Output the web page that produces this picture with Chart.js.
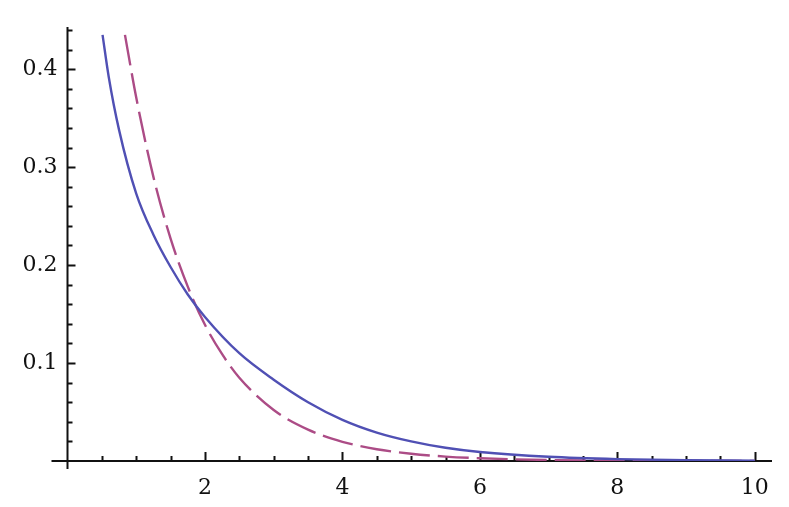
<!DOCTYPE html>
<html>
<head>
<meta charset="utf-8">
<script src="https://cdn.jsdelivr.net/npm/chart.js@4"></script>
<style>
  html, body { margin: 0; padding: 0; background: #fff; }
  canvas { display: block; }
</style>
</head>
<body>
<canvas id="plot" width="789" height="507"></canvas>
<script>
// values
const blueX = [0.51, 0.6, 0.75, 1.0, 1.25, 1.5, 1.75, 2.0, 2.5, 3.0, 3.5, 4.0, 4.5, 5.0, 5.5, 6.0, 7.0, 8.0, 9.0, 10.0];
const blueY = [0.435, 0.392, 0.338, 0.273, 0.231, 0.198, 0.170, 0.147, 0.110, 0.083, 0.060, 0.042, 0.029, 0.020, 0.0135, 0.0092, 0.0043, 0.0019, 0.0008, 0.0004];
const purpleX = [0.836, 1.0, 1.25, 1.5, 1.75, 2.0, 2.25, 2.5, 3.0, 3.5, 4.0, 4.5, 5.0, 5.5, 6.0, 7.0, 8.0, 9.0, 10.0];
const purpleY = [0.435, 0.371, 0.290, 0.227, 0.178, 0.139, 0.109, 0.085, 0.052, 0.032, 0.0196, 0.012, 0.0074, 0.0045, 0.0028, 0.0010, 0.0004, 0.00015, 0.00005];
const xTicks = [2, 4, 6, 8, 10];
const yTicks = [0.1, 0.2, 0.3, 0.4];
const xTickLabels = ['2', '4', '6', '8', '10'];
const yTickLabels = ['0.1', '0.2', '0.3', '0.4'];

const toPoints = (xs, ys) => xs.map((x, i) => ({ x: x, y: ys[i] }));

// Mathematica-style axes crossing at the origin, ticks on the inside
const axesPlugin = {
    id: 'axes',
    beforeDatasetsDraw(chart) {
        const ctx = chart.ctx;
        const xs = chart.scales.x, ys = chart.scales.y;
        const x0 = xs.getPixelForValue(0), y0 = ys.getPixelForValue(0);
        ctx.save();
        ctx.strokeStyle = '#111';
        ctx.lineWidth = 2;
        ctx.beginPath();
        ctx.moveTo(x0 - 16, y0);
        ctx.lineTo(chart.chartArea.right, y0);
        ctx.moveTo(x0, y0 + 8);
        ctx.lineTo(x0, chart.chartArea.top);
        // x ticks every 0.5, major on the labelled ones
        for (let v = 0.5; v <= 10.001; v += 0.5) {
            const p = Math.round(xs.getPixelForValue(v)) + 0.5;
            const len = Math.abs(v % 2) < 0.01 ? 9 : 5;
            ctx.moveTo(p, y0);
            ctx.lineTo(p, y0 - len);
        }
        // y ticks every 0.02
        for (let i = 1; i <= 22; i++) {
            const v = i * 0.02;
            const p = Math.round(ys.getPixelForValue(v)) + 0.5;
            const len = i % 5 === 0 ? 8 : 5;
            ctx.moveTo(x0, p);
            ctx.lineTo(x0 + len, p);
        }
        ctx.stroke();
        ctx.restore();
    }
};

new Chart(document.getElementById('plot'), {
    type: 'line',
    data: {
        datasets: [{
            data: toPoints(blueX, blueY),
            borderColor: 'rgb(80, 80, 180)',
            borderWidth: 2.4,
            pointRadius: 0,
            cubicInterpolationMode: 'monotone',
            fill: false
        }, {
            data: toPoints(purpleX, purpleY),
            borderColor: 'rgb(172, 76, 134)',
            borderWidth: 2.4,
            borderDash: [31, 8],
            pointRadius: 0,
            cubicInterpolationMode: 'monotone',
            fill: false
        }]
    },
    options: {
        responsive: false,
        animation: false,
        events: [],
        layout: { padding: { top: 27, right: 17, left: 0, bottom: 0 } },
        plugins: { legend: { display: false }, tooltip: { enabled: false } },
        scales: {
            x: {
                type: 'linear',
                min: 0,
                max: 10.25,
                grid: { display: false, drawTicks: false, tickLength: 0 },
                border: { display: false },
                afterBuildTicks: s => { s.ticks = xTicks.map(v => ({ value: v })); },
                afterFit: s => { s.height = 46; },
                ticks: {
                    padding: 14,
                    maxRotation: 0,
                    color: '#111',
                    font: { family: 'DejaVu Serif', size: 22 },
                    callback: v => xTickLabels[xTicks.indexOf(v)]
                }
            },
            y: {
                type: 'linear',
                min: 0,
                max: 0.443,
                grid: { display: false, drawTicks: false, tickLength: 0 },
                border: { display: false },
                afterBuildTicks: s => { s.ticks = yTicks.map(v => ({ value: v })); },
                afterFit: s => { s.width = 67.5; },
                ticks: {
                    padding: 10,
                    color: '#111',
                    font: { family: 'DejaVu Serif', size: 22 },
                    callback: v => yTickLabels[yTicks.indexOf(v)]
                }
            }
        }
    },
    plugins: [axesPlugin]
});
</script>
</body>
</html>
